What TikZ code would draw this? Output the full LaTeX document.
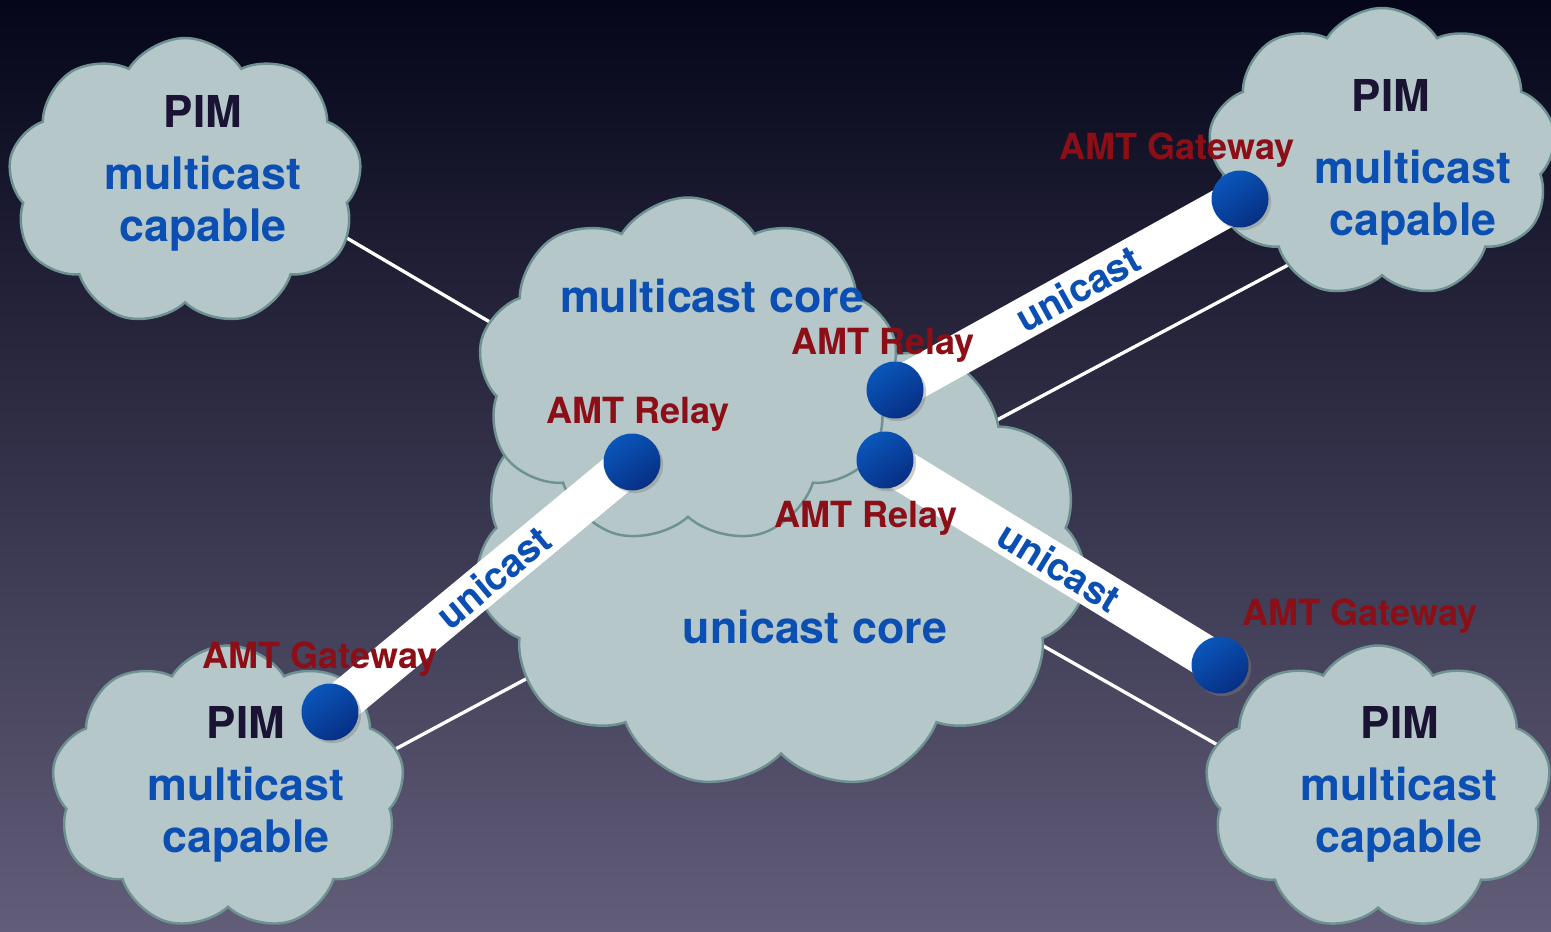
\documentclass[tikz,border=0pt]{standalone}
\usepackage{fontspec}
\setmainfont{TeX Gyre Heros}
\usetikzlibrary{shapes.symbols,shadows}

\definecolor{bgtop}{HTML}{05061A}
\definecolor{bgmid}{HTML}{2C2A4A}
\definecolor{bgbot}{HTML}{625D79}
\definecolor{cloudfill}{HTML}{B5C7C9}
\definecolor{cloudline}{HTML}{6E9192}
\definecolor{capblue}{HTML}{0B4FB3}
\definecolor{amtred}{HTML}{8C0E16}
\definecolor{pimdark}{HTML}{1B1333}
\definecolor{dotlight}{HTML}{0A56BA}
\definecolor{dotdark}{HTML}{072F84}

\pgfdeclarelayer{sky}
\pgfdeclarelayer{clouds}
\pgfdeclarelayer{front}
\pgfsetlayers{sky,clouds,main,front}

\tikzset{
  cloudy/.style={cloud, cloud puffs=9, cloud puff arc=115, cloud ignores aspect,
    draw=cloudline, line width=1.4pt, fill=cloudfill, inner sep=0pt},
  link/.style={white, line width=1.9pt},
  beam/.style={white, line width=23.5pt},
  amtdot/.style={circle, minimum size=1.14cm, inner sep=0pt,
    top color=dotlight, bottom color=dotdark, shading angle=35,
    drop shadow={shadow xshift=1.5pt, shadow yshift=-1.5pt, opacity=.4}},
  amtlabel/.style={anchor=base, text=amtred, font=\fontsize{20.5}{24}\selectfont\bfseries},
  pim/.style={anchor=base, text=pimdark, font=\fontsize{25}{30}\selectfont\bfseries},
  capable/.style={anchor=base, text=capblue, font=\fontsize{25.5}{30}\selectfont\bfseries},
  uni/.style={sloped, text=capblue, font=\fontsize{22}{26}\selectfont\bfseries}
}

\begin{document}
\begin{tikzpicture}[x=0.02cm, y=-0.02cm]
\useasboundingbox (0,0) rectangle (1551,932);

% the clouds
\begin{pgfonlayer}{clouds}
\node[cloudy, minimum width=7.08cm, minimum height=5.76cm] (tl) at (185,182) {};
\node[cloudy, minimum width=6.96cm, minimum height=5.8cm] (tr) at (1382,153) {};
\node[cloudy, minimum width=7.06cm, minimum height=5.7cm] (bl) at (228,788) {};
\node[cloudy, minimum width=6.92cm, minimum height=5.7cm] (br) at (1378,788) {};
\node[cloudy, cloud puffs=11, minimum width=12.26cm, minimum height=9.36cm] (uc) at (781,556) {};
\node[cloudy, minimum width=8.4cm, minimum height=6.94cm] (mc) at (688,371) {};
\end{pgfonlayer}

% sky and the plain links
\begin{pgfonlayer}{sky}
\fill[top color=bgtop, middle color=bgmid, bottom color=bgbot] (0,0) rectangle (1551,932);
\draw[link] ([yshift=0.78cm]tl.center) -- ([yshift=1.26cm]uc.center);
\draw[link] ([yshift=-1.24cm]tr.center) -- ([yshift=0.42cm]uc.center);
\draw[link] ([yshift=-1.02cm]bl.center) -- ([yshift=0.28cm]uc.center);
\draw[link] ([yshift=-0.96cm]br.center) -- ([yshift=1.18cm]uc.center);
\end{pgfonlayer}

% relays and gateways
\begin{pgfonlayer}{front}
\node[amtdot] (r1) at (632,462) {};
\node[amtdot] (r2) at (895,390) {};
\node[amtdot] (r3) at (885,460) {};
\node[amtdot] (g1) at (330,712) {};
\node[amtdot] (g2) at (1240,199) {};
\node[amtdot] (g3) at (1220,665) {};
\end{pgfonlayer}

% unicast tunnels
\draw[beam] (g1.center) -- node[uni, pos=.54] (u1) {unicast} (r1.center);
\draw[beam] (r2.center) -- node[uni, pos=.53] (u2) {unicast} (g2.center);
\draw[beam] (r3.center) -- node[uni, pos=.52] (u3) {unicast} (g3.center);

% cloud texts
\foreach \n/\px/\py/\tx/\ty in {tl/203/128/203/190, tr/1391/112/1413/184,
    bl/246/738/246/800, br/1400/738/1399/800} {
  \node[pim] (\n pim) at (\px,\py) {PIM};
  \node[capable] (\n mc) at (\tx,\ty) {multicast};
  \node[capable] (\n cap) at (\tx,\ty+52) {capable};
}
\node[capable] (mclab) at (712,313) {multicast core};
\node[capable] (uclab) at (815,643) {unicast core};

% AMT labels
\node[amtlabel] (r1lab) at (638,423) {AMT Relay};
\node[amtlabel] (r2lab) at (883,355) {AMT Relay};
\node[amtlabel] (r3lab) at (866,527) {AMT Relay};
\node[amtlabel] (g1lab) at (320,668) {AMT Gateway};
\node[amtlabel] (g2lab) at (1177,160) {AMT Gateway};
\node[amtlabel] (g3lab) at (1360,625) {AMT Gateway};
\end{tikzpicture}
\end{document}
